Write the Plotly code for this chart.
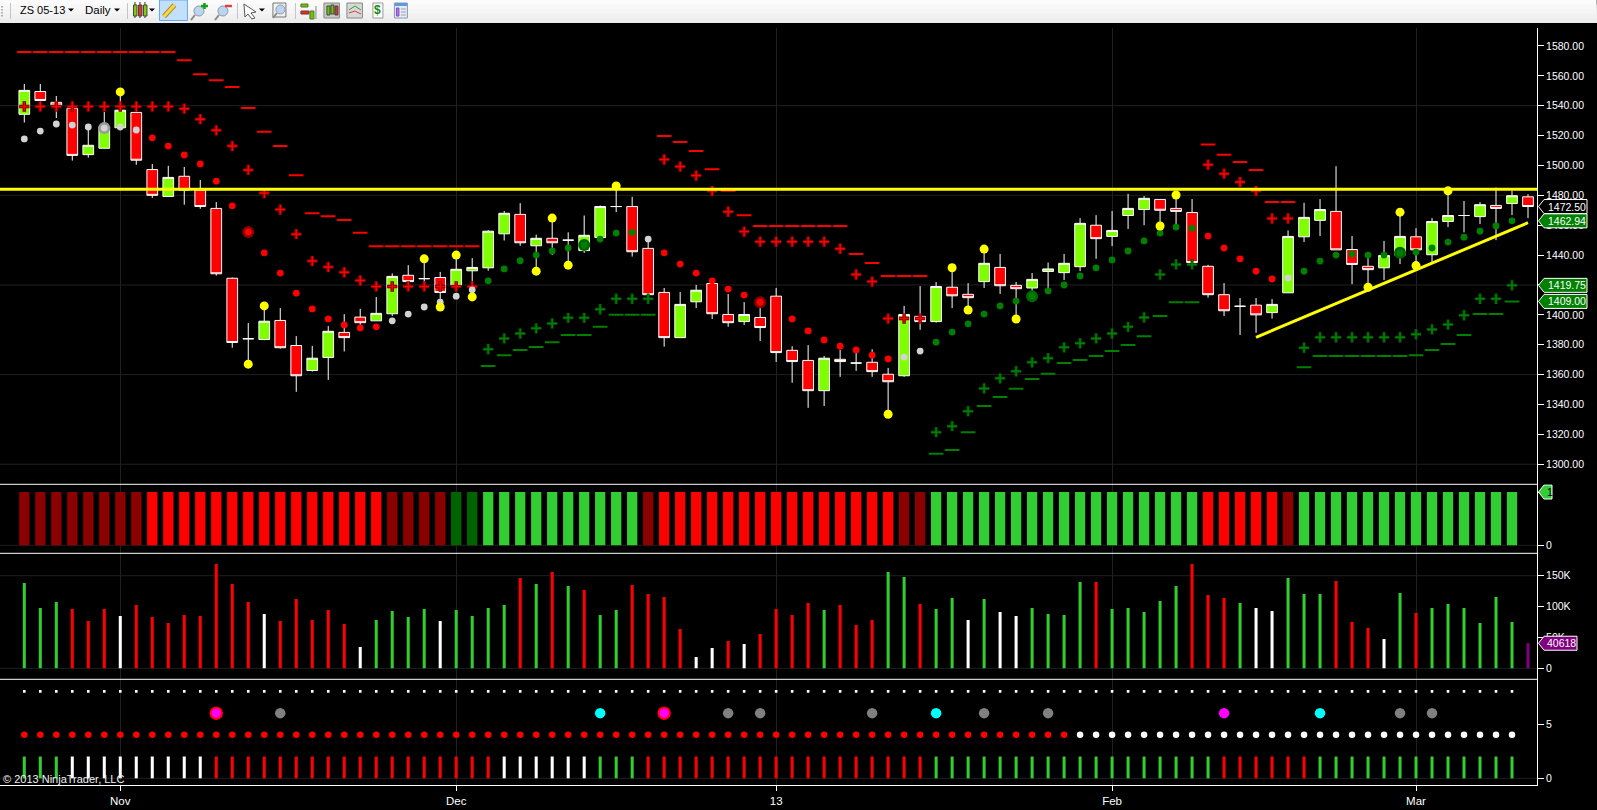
import plotly.graph_objects as go

# ---------- DATA ----------
OPEN = [1534.25,1549.5,1542.25,1538.25,1507.25,1511.5,1525.25,1535.5,1497.25,1479.25,1492.75,1483.5,1471.25,1424.5,1384,1383.5,1396.25,1379.5,1362.75,1371.5,
        1388.25,1398.5,1396,1400.75,1426.5,1424.25,1425,1420,1429.5,1431.5,1454.25,1467.25,1446.25,1451.25,1450,1443,1451.75,1472.5,1472.5,1444.5,
        1415,1384.75,1408.75,1421,1400.25,1395.5,1398.25,1412.5,1376.25,1369.5,1349.25,1370.25,1367.75,1368.25,1360.25,1359.25,1399,1395.5,1418.5,1413.75,
        1422.25,1431.75,1419.75,1418,1429,1428.25,1432.25,1460,1452.5,1466.5,1470.5,1477.25,1471.25,1468.5,1432.5,1413.5,1405.75,1406.5,1401.5,1414.75,
        1452.25,1463.25,1469.25,1443.75,1432.5,1431.5,1440,1452.25,1440.25,1462.5,1466.5,1465.75,1473.25,1474.5,1479]
HIGH = [1554.5,1554.5,1546.5,1541.5,1527.5,1535.75,1549.25,1539.25,1501,1499.75,1499,1490.25,1475.5,1425,1394.5,1406.25,1404.5,1385.75,1379.25,1392.5,
        1400.5,1404,1412,1427.75,1433.25,1437.5,1428.75,1440,1438,1456.75,1469.5,1474.75,1453.75,1464.75,1455.25,1466.5,1473.25,1486.25,1479,1450.75,
        1418,1415.25,1420,1424.5,1414,1408.5,1408.5,1418,1379,1379.75,1372.5,1376.5,1376.5,1377,1364.5,1406,1419.25,1422,1431.5,1421.25,
        1444,1440.75,1422,1428,1435,1440.75,1464.75,1466.75,1469.5,1481,1479.5,1477.25,1480.25,1477.5,1433.5,1421.25,1411.25,1411.25,1410.5,1456.5,
        1475,1477.5,1499.5,1452.75,1438,1449.5,1468.75,1458,1464.75,1483,1476.25,1475.5,1485.25,1483,1480.75]
LOW = [1528.75,1543.25,1531.75,1503.25,1505.25,1511.25,1524.75,1500.5,1478.25,1479,1473.75,1471,1426.25,1378,1367,1383,1377.5,1348.5,1362,1356.5,
       1375.5,1393.25,1396,1399.25,1419,1419,1405.5,1419,1414.5,1429.5,1449.75,1446.25,1429.25,1440,1433.25,1441.5,1451.75,1468.75,1439,1413.5,
       1378.75,1384.75,1404.5,1397.25,1392,1393.25,1382.5,1368.5,1354.5,1337.75,1339,1358.5,1362.5,1358.5,1333.5,1358.5,1390,1394.75,1404.5,1403.25,
       1418,1414,1397.25,1408.75,1417.25,1423.25,1429.25,1437.5,1446,1457.5,1460,1459.5,1458.75,1434.5,1411.5,1399.25,1386.5,1388,1397.5,1414.75,
       1448.75,1452.75,1443.5,1420.5,1419,1423.25,1434,1433,1434.5,1458.75,1455.25,1460.75,1450,1466.75,1464.75]
CLOSE = [1550.25,1543.5,1540.5,1506.75,1513.5,1526,1537,1503.5,1480,1492,1483.5,1472.5,1427.5,1381.5,1384,1395.75,1378,1359.25,1371,1389,
         1384.75,1394.75,1401,1425.75,1422.25,1424.25,1415,1430.5,1431.75,1456,1468,1448.25,1451.25,1448.25,1450,1453.25,1472.5,1472.5,1442.25,1413.5,
         1384.75,1407,1416.5,1400.75,1394.75,1400.25,1391.5,1374.75,1368.75,1349.25,1371,1368.75,1367.75,1362,1355.25,1400.25,1395.5,1419,1412.75,1411.5,
         1434.5,1419.5,1417.5,1423.75,1430.75,1434.5,1461.25,1451,1456.5,1471.25,1478,1470,1469.25,1435,1413.5,1402.75,1405.75,1400,1407,1452.5,
         1465.25,1470.5,1443.5,1433.75,1430.25,1439.75,1452.5,1443.5,1462.5,1466.5,1466.5,1473.75,1471.25,1479.75,1472.5]

TICK_PRICES = [1300,1320,1340,1360,1380,1400,1420,1440,1460,1480,1500,1520,1540,1560,1580]
GRID_PRICES = [1300,1360,1420,1480,1540]
MONTH_BARS = [6,27,47,68,87]
MONTH_LABELS = ["Nov","Dec","13","Feb","Mar"]

RESISTANCE = 1484
TREND_X = [77,94]
TREND_Y = [1385,1461.7]

RED_DASH = {0:1576,1:1576,2:1576,3:1576,4:1576,5:1576,6:1576,7:1576,8:1576,9:1576,10:1570.5,11:1561,12:1557,13:1552.5,14:1538.5,15:1522.5,16:1513,17:1493.5,18:1468,19:1466,20:1463.5,21:1455,
            22:1446,23:1446,24:1446,25:1446,26:1446,27:1446,28:1446,
            40:1519.75,41:1515.75,42:1509.75,43:1497.5,44:1483,45:1466.75,46:1459.5,47:1459.5,48:1459.5,49:1459.5,50:1459.5,51:1459.5,52:1440.75,53:1434.75,54:1426,55:1426,56:1426,
            74:1514,75:1507.25,76:1502.25,77:1497,78:1475.5,79:1475.5}
RED_PLUS = {0:1539.5,1:1539.5,2:1539.5,3:1539.5,4:1539.5,5:1539.5,6:1539.5,7:1539.5,8:1539.5,9:1539.5,10:1538,11:1531,12:1523.5,13:1513,14:1497,15:1481.5,16:1470.5,17:1454,18:1436,19:1432,20:1428.5,21:1423,
            22:1419,23:1419,24:1419,25:1419,26:1419,27:1419,28:1419,
            40:1504,41:1499.25,42:1493.25,43:1483,44:1469,45:1455.75,46:1449,47:1449,48:1449,49:1449,50:1449,51:1444.25,52:1427,53:1422.25,54:1397.5,55:1397.5,56:1397.5,
            74:1500.5,75:1494.5,76:1489,77:1483,78:1464.5,79:1464.5}
GREEN_PLUS = {29:1377,30:1384.25,31:1387.5,32:1391,33:1394.25,34:1398,35:1398,36:1403.75,37:1410.75,38:1410.75,39:1410.75,
              57:1321.5,58:1325.5,59:1335.5,60:1350.75,61:1357.5,62:1362.25,63:1368.25,64:1371,65:1378.25,66:1381,67:1384.25,68:1387.5,69:1392,70:1398.25,71:1427,72:1433.75,73:1433.75,
              80:1378,81:1385,82:1385,83:1385,84:1385,85:1385,86:1385,87:1387,88:1390.25,89:1393.5,90:1399.75,91:1410.75,92:1410.75,93:1419.75}
GREEN_DASH = {29:1365.75,30:1373,31:1376.5,32:1378.5,33:1381.75,34:1386.5,35:1386.5,36:1392,37:1400,38:1400,39:1400,
              57:1307,58:1309.5,59:1321.5,60:1339,61:1345,62:1350.5,63:1357,64:1360.5,65:1367.75,66:1369.75,67:1372.5,68:1375.75,69:1379.75,70:1385.75,71:1399.25,72:1408.5,73:1408.5,
              80:1365,81:1372.5,82:1372.5,83:1372.5,84:1372.5,85:1372.5,86:1372.5,87:1373,88:1376.5,89:1380.5,90:1386.5,91:1400.5,92:1400.5,93:1409}
GRAY_DOT = {0:1517.75,1:1523,2:1527.75,3:1527,4:1525.75,5:1525,6:1525.75,7:1523.75,23:1396,24:1400.5,25:1405.25,26:1408.5,27:1412.5,28:1416.75,39:1450.75,55:1371.75,56:1375.75,79:1424.75}
RED_DOT = {8:1518.5,9:1513,10:1507,11:1501,12:1489.5,13:1473,14:1455.5,15:1441.5,16:1428,17:1414.5,18:1404,19:1397.25,20:1393.25,21:1391.25,22:1392,
           40:1441.5,41:1434,42:1428,43:1422.75,44:1417.25,45:1413.25,46:1408.5,47:1403.25,48:1397.25,49:1389.25,50:1383.25,51:1379,52:1376.5,53:1373,54:1370.5,
           74:1452.75,75:1444.75,76:1437.5,77:1429.25,78:1424}
GREEN_DOT = {29:1422.75,30:1430.75,31:1436.25,32:1440,33:1442.75,34:1444.75,35:1446.75,36:1450.75,37:1454.75,38:1455.25,
             57:1381.75,58:1388.5,59:1394,60:1400.5,61:1406,62:1409.25,63:1412.5,64:1416,65:1420,66:1426,67:1431.5,68:1436.75,69:1442.75,70:1449.5,71:1454.75,72:1458.75,73:1458,
             80:1429.25,81:1436,82:1440,83:1440.75,84:1440,85:1440,86:1441.5,87:1442,88:1444.75,89:1448.75,90:1452,91:1456,92:1459.5,93:1462.94}
YELLOW_DOT = {6:1549.25,14:1367,15:1406,25:1437.5,26:1405.25,27:1440,28:1412,32:1429.25,33:1464.75,34:1433.25,37:1486.25,54:1333.5,58:1431.5,59:1403.25,60:1444,62:1397.25,71:1459.5,72:1480.25,84:1418.5,86:1468.75,87:1433,89:1483}
BIG_GRAY = [5]
BIG_RED = [14,46]
BIG_GREEN = [35,63,86]

SIGNAL_CODES = ("DDDDDDDD" "RRRRRRRRRRRRRRR" "DDDD" "KK" "GGGGGGGGGG" "D" "RRRRRRRRRRRRRRR" "DD" "GGGGGGGGGGGGGGGGG" "RRRRR" "D" "GGGGGGGGGGGGGG")

VOLUME_K = [138.1,97.7,107.4,96,76.6,96,84.7,102.5,83.1,73.4,86.3,84.7,168.9,136.5,107.4,88,76.6,112.2,78.2,94.4,
            71.8,34.5,78.2,92.8,83.1,96,76.6,94.4,84.7,97.7,102.5,146.2,136.5,155.9,133.3,126.8,86.3,94.4,134.9,120.3,
            115.5,63.7,18.3,32.9,44.2,39.4,55.6,96,86.3,105.8,94.4,102.5,70.1,78.2,155.9,147.9,104.1,96,113.9,78.2,
            112.2,91.2,84.7,97.7,88,86.3,139.8,139.8,96,97.7,91.2,109,133.3,168.9,118.7,113.9,105.8,97.7,92.8,146.2,
            120.3,120.3,141.4,75,65.3,47.5,122,89.6,97.7,104.1,97.7,73.4,115.5,75,40.618]
VOLUME_CODES = ("GGG" "RRR" "W" "RRRRRRRR" "W" "RRRRR" "W" "GGGG" "W" "GGGG" "R" "G" "R" "G" "R" "GG" "RRRR" "WW" "R" "W" "RRRR" "G" "RRR" "GG" "R" "GG" "W" "G" "WW" "GGGG" "R" "GGGGG" "RRR" "G" "WW" "GGG" "RRR" "W" "G" "R" "GGGGGG" "P")
VOLUME_TICKS = [0,50000,100000,150000]
VOLUME_TICK_TEXT = ["0","50K","100K","150K"]

LOWER_CODES = ("GGG" "WWWWWWWWW" "RRRRRRRRRRRRRRRRRR" "WWWWWW" "GGG" "RRRRRRRRRRRRRRRRRR" "GGGGGGGGGGGGGGGGGG" "RRRRRR" "GGGGGGGGGGGGG")
RED_LEVEL_BARS = 66
EVENT_GRAY = [16,44,46,53,60,64,86,88]
EVENT_CYAN = [36,57,81]
EVENT_MAGENTA_RING = [12,40]
EVENT_MAGENTA = [75]

TAGS_PRICE = [(1472.50,"1472.50","#000000"),(1462.94,"1462.94","#008000"),(1419.75,"1419.75","#008000"),(1409.00,"1409.00","#008000")]
LAST_VOLUME = 40618

# ---------- STYLE / GEOMETRY ----------
W, H = 1597, 810
AX_X = 1537.3
TOP, B1, B2, B3, BOT = 28.0, 484.3, 553.3, 679.3, 785.0
PH = BOT - TOP
COL = {"D":"#8B0000","R":"#FF0000","K":"#006400","G":"#32CD32","W":"#FFFFFF","P":"#800080"}
FONT = "Liberation Sans"
GRID = "#202020"

def dom(a, b):
    return [(BOT - b) / PH, (BOT - a) / PH]

def price_at(y):
    return 1540 - (y - 105.7) / 1.494

n = len(CLOSE)
bars = list(range(n))
fig = go.Figure()

fig.add_trace(go.Candlestick(x=bars, open=OPEN, high=HIGH, low=LOW, close=CLOSE, yaxis="y", xaxis="x",
    whiskerwidth=0,
    increasing=dict(line=dict(color="#FFFFFF", width=1), fillcolor="#7FFF00"),
    decreasing=dict(line=dict(color="#FFFFFF", width=1), fillcolor="#FF0000")))

def marks(d, symbol, size, color, lw=0, lc=None, yaxis="y"):
    fig.add_trace(go.Scatter(x=list(d), y=list(d.values()), mode="markers", yaxis=yaxis, xaxis="x",
        marker=dict(symbol=symbol, size=size, color=color, line=dict(width=lw, color=lc or color))))

marks(RED_DASH, "line-ew", 10.4, "#FF0000", 2, "#FF0000")
marks(GREEN_DASH, "line-ew", 10.4, "#008000", 2, "#008000")
marks(RED_PLUS, "cross-thin", 7.4, "#7A0000", 3.5, "#7A0000")
marks(RED_PLUS, "cross-thin", 7.0, "#FF0000", 1.5, "#FF0000")
marks(GREEN_PLUS, "cross-thin", 7.4, "#004A00", 3, "#004A00")
marks(GREEN_PLUS, "cross-thin", 7.0, "#008000", 1.5, "#008000")
marks({i: GRAY_DOT[i] for i in BIG_GRAY}, "circle", 12, "#9A9A9A")
marks({i: RED_DOT[i] for i in BIG_RED}, "circle", 12, "#8B0000")
marks({i: GREEN_DOT[i] for i in BIG_GREEN}, "circle", 12, "#006400")
marks(GRAY_DOT, "circle", 6.8, "#D3D3D3")
marks(RED_DOT, "circle", 6.8, "#FF0000")
marks(GREEN_DOT, "circle", 6.8, "#008000")
marks(YELLOW_DOT, "circle", 9, "#FFFF00")

fig.add_trace(go.Scatter(x=TREND_X, y=TREND_Y, mode="lines", yaxis="y", xaxis="x",
    line=dict(color="#FFFF00", width=3)))

# signal panel
fig.add_trace(go.Bar(x=bars[:len(SIGNAL_CODES)], y=[1]*len(SIGNAL_CODES), yaxis="y2", xaxis="x", width=0.64,
    marker=dict(color=[COL[c] for c in SIGNAL_CODES], line=dict(width=0))))
# volume panel
fig.add_trace(go.Bar(x=bars, y=[v*1000 for v in VOLUME_K], yaxis="y3", xaxis="x", width=0.19,
    marker=dict(color=[COL[c] for c in VOLUME_CODES], line=dict(width=0))))
# lower panel
fig.add_trace(go.Bar(x=bars[:len(LOWER_CODES)], y=[2]*len(LOWER_CODES), yaxis="y4", xaxis="x", width=0.19,
    marker=dict(color=[COL[c] for c in LOWER_CODES], line=dict(width=0))))
m = len(LOWER_CODES)
marks({i: 8 for i in range(m)}, "square", 2.6, "#FFFFFF", yaxis="y4")
marks({i: 4 for i in range(RED_LEVEL_BARS)}, "circle", 6.5, "#FF0000", yaxis="y4")
marks({i: 4 for i in range(RED_LEVEL_BARS, m)}, "circle", 6.5, "#FFFFFF", yaxis="y4")
marks({i: 6 for i in EVENT_GRAY}, "circle", 10.5, "#808080", yaxis="y4")
marks({i: 6 for i in EVENT_CYAN}, "circle", 10.5, "#00FFFF", yaxis="y4")
marks({i: 6 for i in EVENT_MAGENTA}, "circle", 10.5, "#FF00FF", yaxis="y4")
marks({i: 6 for i in EVENT_MAGENTA_RING}, "circle", 11.5, "#FF00FF", 2, "#FF0000", yaxis="y4")

# ---------- shapes ----------
shapes, annos = [], []

def hgrid(yref, y):
    shapes.append(dict(type="line", xref="paper", yref=yref, x0=0, x1=1, y0=y, y1=y, layer="below",
                       line=dict(color=GRID, width=1)))

for p in GRID_PRICES: hgrid("y", p)
hgrid("y2", 0)
hgrid("y3", 0); hgrid("y3", 150000)
hgrid("y4", 0)

for yr in ("y2", "y3", "y4"):
    shapes.append(dict(type="line", xref="paper", yref=yr+" domain", x0=0, x1=1, y0=1, y1=1,
                       line=dict(color="#FFFFFF", width=1)))

shapes.append(dict(type="line", xref="paper", yref="y", x0=0, x1=1, y0=RESISTANCE, y1=RESISTANCE,
                   line=dict(color="#FFFF00", width=3)))

def tag(yref, y, text, fill, width, tcolor="#FFFFFF", tx=8.5):
    h = 7
    shapes.append(dict(type="path", xref="paper", yref=yref, xsizemode="pixel", ysizemode="pixel",
        xanchor=1, yanchor=y,
        path=f"M1.5,0 L7,-{h} L{width},-{h} L{width},{h} L7,{h} Z",
        fillcolor=fill, line=dict(color="#FFFFFF", width=1)))
    annos.append(dict(xref="paper", yref=yref, x=1, y=y, xshift=tx, xanchor="left", yanchor="middle",
        text=text, showarrow=False, font=dict(family=FONT, size=10.5, color=tcolor)))

for v, t, c in TAGS_PRICE:
    tag("y", v, t, c, 50)
tag("y2", 1, "1", "#32CD32", 15, "#000000", 8)
tag("y3", LAST_VOLUME, str(LAST_VOLUME), "#800080", 40, "#FFFFFF", 7.5)

# toolbar, drawn in page pixels
def px(x): return x / AX_X
def py(y): return (BOT - y) / PH

def rect(x0, y0, x1, y1, fill, line=None, lw=1):
    shapes.append(dict(type="rect", xref="paper", yref="paper", x0=px(x0), x1=px(x1), y0=py(y0), y1=py(y1),
        fillcolor=fill, line=dict(color=line or fill, width=lw if line else 0)))

def seg(x0, y0, x1, y1, color, lw=1):
    shapes.append(dict(type="line", xref="paper", yref="paper", x0=px(x0), x1=px(x1), y0=py(y0), y1=py(y1),
        line=dict(color=color, width=lw)))

def circ(x0, y0, x1, y1, fill, line):
    shapes.append(dict(type="circle", xref="paper", yref="paper", x0=px(x0), x1=px(x1), y0=py(y0), y1=py(y1),
        fillcolor=fill, line=dict(color=line, width=1)))

def tri(cx, cy):
    pts = [(cx-3, cy-1.5), (cx+3, cy-1.5), (cx, cy+1.5)]
    path = "M" + " L".join(f"{px(a):.5f},{py(b):.5f}" for a, b in pts) + " Z"
    shapes.append(dict(type="path", xref="paper", yref="paper", path=path, fillcolor="#000000", line=dict(width=0)))

for k, c in enumerate(["#FBFBFB","#F8F8F8","#F5F5F5","#F1F1F1","#EDEDED"]):
    rect(0, k*4.6, W, 23, c)
for yy in (6, 9, 12, 15):
    rect(1, yy, 3, yy+1.5, "#B0B0B0")
for xx in (10.5, 127.5, 237.5, 295.5):
    seg(xx, 3, xx, 19, "#C4C4C4")
for xx in (71, 117, 152, 181, 262):
    tri(xx, 10)
# chart style icon
for xx, c in ((133.5, "#7FD000"), (138.5, "#E83030"), (143.5, "#7FD000")):
    seg(xx+1.5, 2, xx+1.5, 18, "#333333", 1)
    rect(xx, 5, xx+3.5, 16, c, "#444444")
# pencil button
rect(159.5, 0, 187.5, 20.5, "#C2E0FB", "#66A8EE")
seg(164, 16.5, 174.5, 5, "#B08A20", 5)
seg(164, 16.5, 174.5, 5, "#F6D84A", 3)
# zoom in / out
for x0, sign, c in ((191, True, "#14A014"), (215, False, "#E04040")):
    circ(x0+3, 6, x0+13, 16, "#BCD4EE", "#8C9CB0")
    seg(x0+4, 15, x0, 20, "#888888", 2)
    seg(x0+10, 6, x0+17, 6, c, 2.5)
    if sign:
        seg(x0+13.5, 3, x0+13.5, 9, c, 2.5)
# arrow
path = "M" + " L".join(f"{px(a):.5f},{py(b):.5f}" for a, b in [(244,4),(256,12),(251,13),(255,18),(252,19),(248,14),(245,17)]) + " Z"
shapes.append(dict(type="path", xref="paper", yref="paper", path=path, fillcolor="#FFFFFF", line=dict(color="#555555", width=1)))
# find box
rect(273, 3, 286, 17, "#F0F0F0", "#777777")
circ(276, 5, 285, 14, "#BCD4EE", "#8C9CB0")
seg(277, 13, 273, 18, "#888888", 2)
# panel icons
rect(301, 4, 308, 7, "#6CC800", "#507030"); rect(301, 11, 309, 14, "#E03030", "#803030"); rect(310, 11, 314, 19, "#6CC800", "#507030")
seg(316, 6, 316, 19, "#888888", 1)
rect(324, 3, 339.5, 18, "#C8C8C8", "#888888"); rect(327, 6, 330, 15, "#6CC800", "#444444"); rect(331, 5, 334, 14, "#6CC800", "#444444"); rect(335, 6, 338, 15, "#E03030", "#444444")
rect(347, 3, 362.5, 18, "#D8D8D8", "#888888")
seg(349, 10, 355, 6, "#30A030", 1); seg(355, 6, 361, 10, "#30A030", 1); seg(349, 13, 355, 11, "#D04040", 1); seg(355, 11, 361, 14, "#D04040", 1)
rect(373, 3, 383, 18, "#FFFFFF", "#999999")
annos.append(dict(xref="paper", yref="paper", x=px(378), y=py(10.5), xanchor="center", yanchor="middle", text="<b>$</b>", showarrow=False,
                  font=dict(family=FONT, size=12, color="#128A12")))
rect(394.5, 3, 407.5, 18, "#E4EDF7", "#8898B0"); rect(395, 3, 407, 6, "#5C9BD8"); rect(396.5, 8, 399, 16, "#B070F0", "#8050C0")
seg(401, 9, 406, 9, "#A0A0A0"); seg(401, 12, 406, 12, "#A0A0A0"); seg(401, 15, 406, 15, "#A0A0A0")

annos.append(dict(xref="paper", yref="paper", x=px(18), y=py(10), xanchor="left", yanchor="middle", text="ZS 05-13",
                  showarrow=False, font=dict(family=FONT, size=11, color="#000000")))
annos.append(dict(xref="paper", yref="paper", x=px(83), y=py(10), xanchor="left", yanchor="middle", text="Daily",
                  showarrow=False, font=dict(family=FONT, size=11.5, color="#000000")))
annos.append(dict(xref="paper", yref="paper", x=px(1), y=py(779), xanchor="left", yanchor="middle",
                  text="© 2013 NinjaTrader, LLC", showarrow=False, font=dict(family=FONT, size=11, color="#F0F0F0")))

# ---------- axes ----------
tickfont = dict(family=FONT, size=10.5, color="#FFFFFF")
def yax(domain, rng, vals, text):
    return dict(domain=domain, range=rng, side="right", anchor="x", showgrid=False, zeroline=False,
        showline=True, linecolor="#FFFFFF", linewidth=1, ticks="outside", ticklen=6, tickcolor="#FFFFFF",
        tickwidth=1, tickmode="array", tickvals=vals, ticktext=text, tickfont=tickfont, fixedrange=True)

r1 = [price_at(B1), price_at(TOP)]
r2 = [-(B2-545.3)/53.3, (545.3-B1)/53.3]
r3 = [-(B3-668.3)/0.6173*1000, (668.3-B2)/0.6173*1000]
r4 = [-(BOT-778.3)/10.86, (778.3-B3)/10.86]

fig.update_layout(
    width=W, height=H, autosize=False,
    margin=dict(l=0, r=W-AX_X, t=TOP, b=H-BOT, pad=0),
    paper_bgcolor="#000000", plot_bgcolor="#000000",
    showlegend=False, hovermode=False, dragmode=False, barmode="overlay",
    boxgap=0.33, boxgroupgap=0,
    xaxis=dict(domain=[0,1], range=[(0-24.3)/16, (AX_X-24.3)/16], anchor="y4", side="bottom",
        rangeslider=dict(visible=False), showgrid=True, gridcolor=GRID, gridwidth=1, zeroline=False,
        showline=True, linecolor="#FFFFFF", linewidth=1, ticks="outside", ticklen=5, tickcolor="#FFFFFF",
        tickmode="array", tickvals=MONTH_BARS, ticktext=MONTH_LABELS,
        tickfont=dict(family=FONT, size=11.5, color="#FFFFFF"), fixedrange=True),
    yaxis=yax(dom(TOP,B1), r1, TICK_PRICES, [f"{v:.2f}" for v in TICK_PRICES]),
    yaxis2=yax(dom(B1,B2), r2, [0,1], ["0","1"]),
    yaxis3=yax(dom(B2,B3), r3, VOLUME_TICKS, VOLUME_TICK_TEXT),
    yaxis4=yax(dom(B3,BOT), r4, [0,5], ["0","5"]),
    shapes=shapes, annotations=annos,
)

fig.write_html("out.html", config={"displayModeBar": False, "staticPlot": True},
    post_script="document.body.style.margin='0';document.documentElement.style.overflow='hidden';")
